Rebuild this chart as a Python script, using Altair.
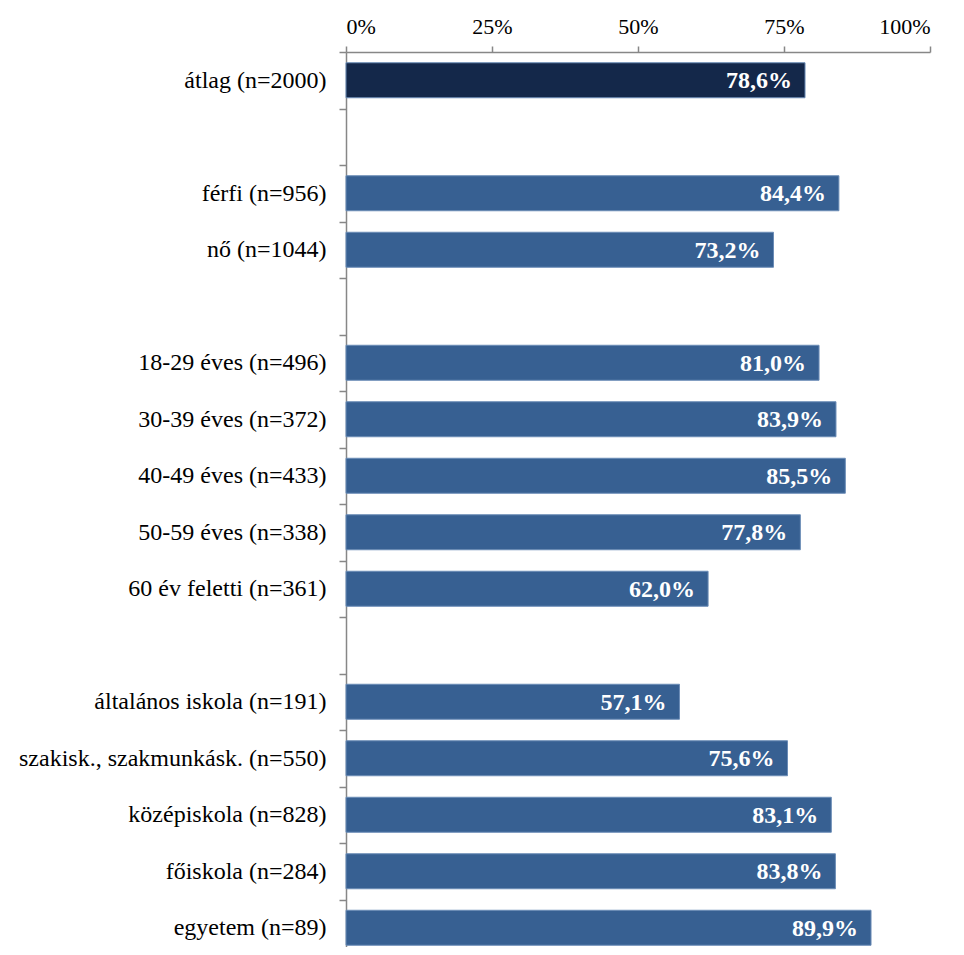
import altair as alt
import pandas as pd

# Row order of the chart, blanks are spacer rows between groups
rows = [
    "átlag (n=2000)", " ",
    "férfi (n=956)", "nő (n=1044)", "  ",
    "18-29 éves (n=496)", "30-39 éves (n=372)", "40-49 éves (n=433)",
    "50-59 éves (n=338)", "60 év feletti (n=361)", "   ",
    "általános iskola (n=191)", "szakisk., szakmunkásk. (n=550)",
    "középiskola (n=828)", "főiskola (n=284)", "egyetem (n=89)",
]
bar_categories = [
    "átlag (n=2000)",
    "férfi (n=956)", "nő (n=1044)",
    "18-29 éves (n=496)", "30-39 éves (n=372)", "40-49 éves (n=433)",
    "50-59 éves (n=338)", "60 év feletti (n=361)",
    "általános iskola (n=191)", "szakisk., szakmunkásk. (n=550)",
    "középiskola (n=828)", "főiskola (n=284)", "egyetem (n=89)",
]
values = [78.6, 84.4, 73.2, 81.0, 83.9, 85.5, 77.8, 62.0, 57.1, 75.6, 83.1, 83.8, 89.9]
groups = ["avg"] + ["sub"] * 12
x_ticks = [0, 25, 50, 75, 100]

df = pd.DataFrame({"cat": bar_categories, "value": values, "grp": groups})

FONT = "Liberation Serif"
AXIS_GRAY = "#878787"

y_enc = alt.Y(
    "cat:N",
    scale=alt.Scale(domain=rows, paddingInner=0, paddingOuter=0, range=[0, 904]),
    axis=alt.Axis(
        title=None,
        labelFontSize=24,
        labelColor="#000000",
        labelFont=FONT,
        labelPadding=13,
        labelLimit=400,
        tickSize=7,
        tickBand="extent",
        tickColor=AXIS_GRAY,
        tickWidth=1.5,
        domainColor=AXIS_GRAY,
        domainWidth=1.5,
    ),
)

x_enc = alt.X(
    "value:Q",
    scale=alt.Scale(domain=[0, 100], nice=False),
    axis=alt.Axis(
        orient="top",
        title=None,
        values=x_ticks,
        labelExpr="datum.value + '%'",
        labelFontSize=22,
        labelFont=FONT,
        labelColor="#000000",
        labelPadding=8,
        tickSize=6,
        tickColor=AXIS_GRAY,
        tickWidth=1.5,
        domainColor=AXIS_GRAY,
        domainWidth=1.5,
        grid=False,
    ),
)

bars = alt.Chart(df).mark_bar(size=35, stroke="#6b8cb6", strokeWidth=1).encode(
    x=x_enc,
    y=y_enc,
    color=alt.Color(
        "grp:N",
        scale=alt.Scale(domain=["avg", "sub"], range=["#14284a", "#376092"]),
        legend=None,
    ),
)

labels = alt.Chart(df).transform_calculate(
    label="replace(format(datum.value, '.1f'), '.', ',') + '%'"
).mark_text(
    align="right", baseline="middle", dx=-13, dy=1,
    font=FONT, fontSize=24, fontWeight="bold", color="#ffffff",
).encode(
    x=alt.X("value:Q"),
    y=alt.Y("cat:N"),
    text="label:N",
)

chart = (
    alt.layer(bars, labels)
    .properties(
        width=584,
        height=895,
        autosize=alt.AutoSizeParams(type="none"),
        padding={"left": 338, "top": 44, "right": 26, "bottom": 0},
    )
    .configure(font=FONT)
    .configure_view(stroke="transparent", strokeWidth=0)
)

chart.save("out.html", embed_options={"renderer": "svg", "actions": False})
